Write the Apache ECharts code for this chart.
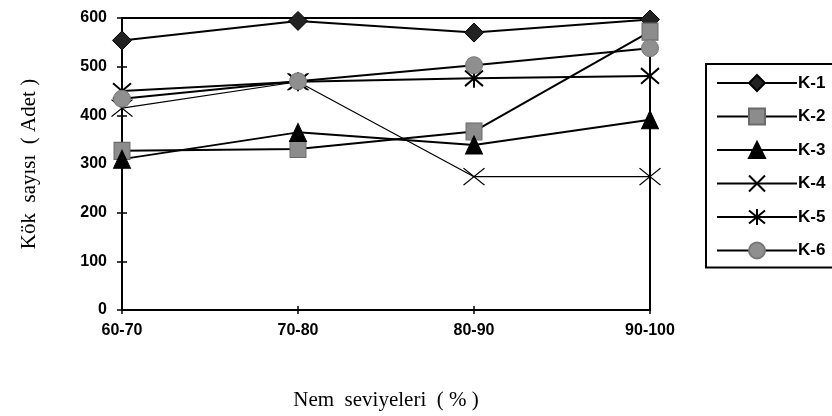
<!DOCTYPE html>
<html>
<head>
<meta charset="utf-8">
<script src="https://cdn.jsdelivr.net/npm/echarts@6/dist/echarts.min.js"></script>
<style>
html,body{margin:0;padding:0;background:#fff;}
#chart{width:832px;height:416px;}
</style>
</head>
<body>
<div id="chart"></div>
<script>
const categories = ['60-70', '70-80', '80-90', '90-100'];
const seriesNames = ['K-1', 'K-2', 'K-3', 'K-4', 'K-5', 'K-6'];
const k1 = [554, 594, 570, 597];
const k2 = [327, 331, 367, 572];
const k3 = [310, 365, 339, 391];
const k4 = [415, 469, 274, 274];
const k5 = [450, 469, 476, 481];
const k6 = [434, 470, 503, 538];
const yTicks = [0, 100, 200, 300, 400, 500, 600];
const xTitle = 'Nem  seviyeleri  ( % )';
const yTitle = 'Kök  sayısı  ( Adet )';

const values = [k1, k2, k3, k4, k5, k6];
const xPath = 'path://M0,0L22,18M22,0L0,18';
const starPath = 'path://M0,0L18,18M18,0L0,18M9,-2L9,20';
const styles = [
  {symbol: 'diamond', symbolSize: [19, 19], item: {color: '#222', borderColor: '#000', borderWidth: 1}, lw: 2},
  {symbol: 'rect', symbolSize: [16, 17], item: {color: '#8c8c8c', borderColor: '#6a6a6a', borderWidth: 1}, lw: 2},
  {symbol: 'triangle', symbolSize: [17, 18], item: {color: '#000', borderColor: '#000', borderWidth: 1}, lw: 2},
  {symbol: xPath, symbolSize: [21, 17], item: {color: 'rgba(0,0,0,0)', borderColor: '#000', borderWidth: 1.2}, lw: 1.2},
  {symbol: starPath, symbolSize: [18, 19], item: {color: 'rgba(0,0,0,0)', borderColor: '#000', borderWidth: 2}, lw: 2},
  {symbol: 'circle', symbolSize: 17, item: {color: '#8f8f8f', borderColor: '#777', borderWidth: 1}, lw: 2}
];

const chart = echarts.init(document.getElementById('chart'), null, {renderer: 'canvas'});
const tickFont = {fontFamily: 'Liberation Sans, Arial, sans-serif', fontWeight: 'bold', fontSize: 16, color: '#000'};
const titleFont = {fontFamily: 'Liberation Serif, Times New Roman, serif', fontSize: 21, color: '#000'};

chart.setOption({
  animation: false,
  backgroundColor: '#fff',
  grid: {left: 122, right: 182, top: 18, bottom: 106, show: true, borderColor: '#000', borderWidth: 2, backgroundColor: 'rgba(0,0,0,0)'},
  legend: {
    orient: 'vertical',
    left: 706, top: 64,
    padding: [10, 60, 8, 10],
    itemWidth: 80, itemHeight: 20, itemGap: 15.5,
    borderColor: '#000', borderWidth: 2,
    data: seriesNames,
    textStyle: {fontFamily: 'Liberation Sans, Arial, sans-serif', fontWeight: 'bold', fontSize: 17, color: '#000', padding: [0, 0, 0, -4]}
  },
  xAxis: [{
    type: 'category', data: categories, boundaryGap: false,
    axisLine: {lineStyle: {color: '#000', width: 2}},
    axisTick: {show: true, alignWithLabel: true, length: 4, lineStyle: {color: '#000', width: 1.5}},
    axisLabel: Object.assign({margin: 13}, tickFont),
    name: xTitle, nameLocation: 'middle', nameGap: 80,
    nameTextStyle: titleFont
  }, {
    type: 'category', data: categories, boundaryGap: false, position: 'bottom', gridIndex: 0,
    axisLine: {show: false},
    axisTick: {show: true, inside: true, length: 4, lineStyle: {color: '#000', width: 1.5}},
    axisLabel: {show: false}
  }],
  yAxis: [{
    type: 'value', min: 0, max: 600, interval: 100,
    axisLine: {show: true, lineStyle: {color: '#000', width: 2}},
    axisTick: {show: true, length: 5, lineStyle: {color: '#000', width: 1.5}},
    splitLine: {show: false},
    axisLabel: Object.assign({margin: 15, formatter: v => yTicks.includes(v) ? String(v) : ''}, tickFont),
    name: yTitle, nameLocation: 'middle', nameGap: 82, nameRotate: 90,
    nameTextStyle: titleFont
  }, {
    type: 'value', min: 0, max: 600, interval: 100, position: 'left',
    axisLine: {show: false},
    axisTick: {show: true, inside: true, length: 5, lineStyle: {color: '#000', width: 1.5}},
    splitLine: {show: false},
    axisLabel: {show: false}
  }],
  series: seriesNames.map((name, i) => ({
    name: name, type: 'line', data: values[i],
    xAxisIndex: 0, yAxisIndex: 0,
    symbol: styles[i].symbol, symbolSize: styles[i].symbolSize,
    showAllSymbol: true,
    lineStyle: {color: '#000', width: styles[i].lw},
    itemStyle: styles[i].item,
    emphasis: {disabled: true}
  }))
});
</script>
</body>
</html>
